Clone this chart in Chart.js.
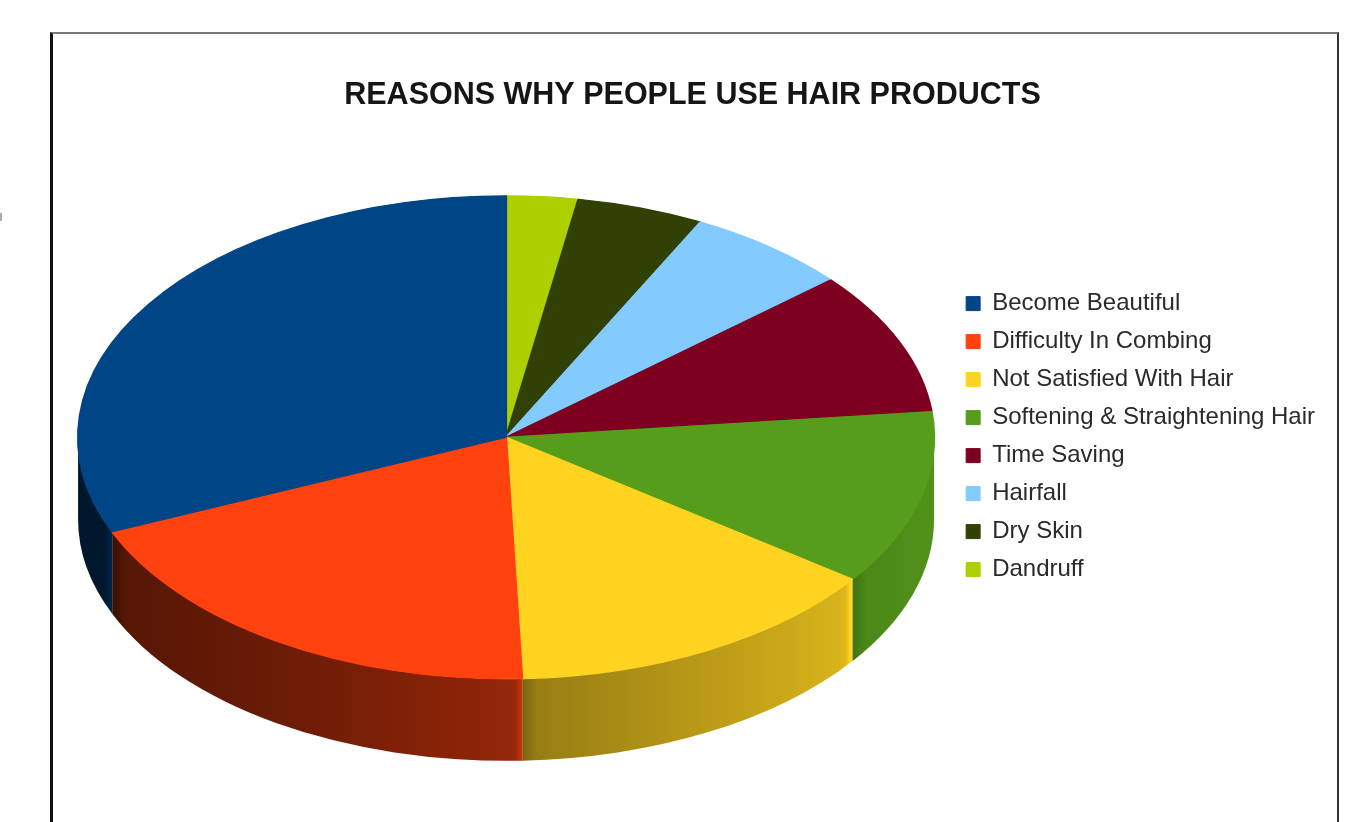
<!DOCTYPE html>
<html>
<head>
<meta charset="utf-8">
<title>Reasons why people use hair products</title>
<script src="https://cdn.jsdelivr.net/npm/chart.js@4.4.1/dist/chart.umd.min.js"></script>
<style>
  html, body { margin: 0; padding: 0; background: #fff; }
  body { width: 1355px; height: 822px; position: relative; overflow: hidden; }
  #frame { position: absolute; left: 50px; top: 32px; width: 1284px; height: 820px;
           border-left: 3px solid #111; border-top: 2px solid #777; border-right: 2px solid #333; }
  #chart { position: absolute; left: 53px; top: 35px; }
  #tick { position: absolute; left: 0; top: 213px; width: 2px; height: 8px; background: #aaa; }
</style>
</head>
<body>
<div id="tick"></div>
<div id="frame"></div>
<canvas id="chart" width="1284" height="787"></canvas>
<script>
// legend order, top to bottom
var reasons = ['Become Beautiful', 'Difficulty In Combing', 'Not Satisfied With Hair',
  'Softening & Straightening Hair', 'Time Saving', 'Hairfall', 'Dry Skin', 'Dandruff'];
var shares = [31.4, 19.2, 14.4, 11.7, 9.6, 6.2, 4.8, 2.7];
var colors = ['#004586', '#ff420e', '#ffd320', '#579d1c', '#7e0021', '#83caff', '#314004', '#aecf00'];

function shade(hex, k) {
  var n = parseInt(hex.slice(1), 16);
  var c = [n >> 16 & 255, n >> 8 & 255, n & 255].map(function(v){
    return Math.round(Math.max(0, Math.min(255, v * k)));
  });
  return 'rgb(' + c.join(',') + ')';
}

// tilts the pie into an ellipse and paints the front wall under it
var pie3d = {
  id: 'pie3d',
  beforeDatasetsDraw: function(chart, args, opts){
    var ctx = chart.ctx;
    var arcs = chart.getDatasetMeta(0).data;
    var fills = chart.data.datasets[0].backgroundColor;
    var R = arcs[0].outerRadius;
    var rx = opts.rx, ry = opts.ry, d = opts.depth;
    var cx = arcs[0].x, cy = arcs[0].y - d / 2;

    arcs.forEach(function(arc, i){
      var s = Math.max(arc.startAngle, 0);
      var e = Math.min(arc.endAngle, Math.PI);
      if (e <= s) return;
      var xl = cx + rx * Math.cos(e), xr = cx + rx * Math.cos(s);
      var g = ctx.createLinearGradient(xl, 0, xr, 0);
      var xs = [];
      for (var k = 0; k <= 24; k++) xs.push(xl + (xr - xl) * k / 24);
      [3, 7, 12].forEach(function(o){ xs.push(xl + o); xs.push(xr - o); });
      xs.filter(function(x){ return x >= xl && x <= xr; })
        .sort(function(a, b){ return a - b; })
        .forEach(function(x){
          var c = Math.max(-1, Math.min(1, (x - cx) / rx));
          var b = 0.33 + 0.6 * Math.pow((1 + c) / 2, 1.3);
          if (s > 0) b += 0.2 * Math.max(0, 1 - (xr - x) / 8);
          if (e < Math.PI) b -= 0.12 * Math.max(0, 1 - (x - xl) / 14);
          g.addColorStop((x - xl) / (xr - xl), shade(fills[i], b));
        });
      ctx.beginPath();
      ctx.ellipse(cx, cy, rx, ry, 0, s, e, false);
      ctx.ellipse(cx, cy + d, rx, ry, 0, e, s, true);
      ctx.closePath();
      ctx.fillStyle = g;
      ctx.fill();
    });

    ctx.save();
    ctx.translate(cx, cy);
    ctx.scale(rx / R, ry / R);
    ctx.translate(-arcs[0].x, -arcs[0].y);
  },
  afterDatasetsDraw: function(chart){
    chart.ctx.restore();
  }
};

// slices run clockwise from 12 o'clock starting with Dandruff
var sliceLabels = reasons.slice().reverse();
var sliceData = shares.slice().reverse();
var sliceColors = colors.slice().reverse();

new Chart(document.getElementById('chart'), {
  type: 'pie',
  data: {
    labels: sliceLabels,
    datasets: [{
      data: sliceData,
      backgroundColor: sliceColors,
      borderColor: sliceColors,
      borderWidth: 1,
      clip: false
    }]
  },
  options: {
    responsive: false,
    animation: false,
    events: [],
    layout: { padding: { left: 7, right: 12, top: 0, bottom: 143 } },
    plugins: {
      title: {
        display: true,
        text: 'REASONS WHY PEOPLE USE HAIR PRODUCTS',
        color: '#151515',
        font: { family: 'Liberation Sans', size: 30.5, weight: 'bold' },
        padding: { top: 42, bottom: 164 }
      },
      legend: {
        position: 'right',
        align: 'start',
        fullSize: false,
        reverse: true,
        labels: {
          boxWidth: 14,
          boxHeight: 14,
          padding: 14,
          color: '#2a2a2a',
          font: { family: 'Liberation Sans', size: 24 }
        }
      },
      tooltip: { enabled: false },
      pie3d: { rx: 428, ry: 241.5, depth: 82 }
    }
  },
  plugins: [pie3d]
});
</script>
</body>
</html>
